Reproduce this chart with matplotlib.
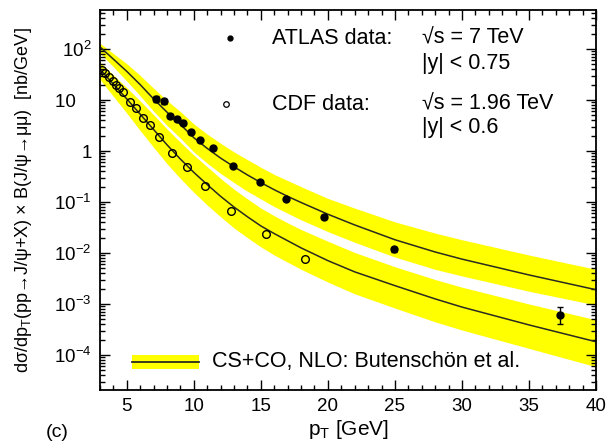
import numpy as np
import matplotlib
matplotlib.use('Agg')
import matplotlib.pyplot as plt
from matplotlib.patches import Rectangle
from matplotlib.lines import Line2D
from matplotlib.ticker import FixedLocator, LogLocator, MultipleLocator, NullFormatter

plt.rcParams['font.family'] = ['Liberation Sans', 'DejaVu Sans']
plt.rcParams['mathtext.fontset'] = 'custom'
plt.rcParams['mathtext.rm'] = 'Liberation Sans'
plt.rcParams['mathtext.it'] = 'Liberation Sans:italic'

# ATLAS data, sqrt(s) = 7 TeV, |y| < 0.75
atlas_pt = [7.2, 7.75, 8.25, 8.75, 9.2, 9.75, 10.45, 11.45, 12.9, 14.9, 16.9, 19.7, 24.95, 37.3]
atlas_val = [10.5, 9.5, 4.9, 4.3, 3.5, 2.35, 1.62, 1.12, 0.51, 0.245, 0.117, 0.051, 0.0118, 6.0e-4]
atlas_err_lo = [1.3, 1.1, 0.4, 0.35, 0.3, 0.2, 0.12, 0.08, 0.035, 0.017, 0.009, 0.004, 0.0015, 1.9e-4]
atlas_err_hi = [1.3, 1.1, 0.4, 0.35, 0.3, 0.2, 0.12, 0.08, 0.035, 0.017, 0.009, 0.004, 0.0015, 2.7e-4]

# CDF data, sqrt(s) = 1.96 TeV, |y| < 0.6
cdf_pt = [3.15, 3.4, 3.65, 3.95, 4.2, 4.45, 4.7, 5.2, 5.7, 6.2, 6.7, 7.4, 8.35, 9.5, 10.8, 12.8, 15.4, 18.3]
cdf_val = [38.9, 33.1, 27.9, 23.4, 19.5, 17.0, 14.1, 9.3, 6.9, 4.4, 3.2, 1.86, 0.90, 0.49, 0.21, 0.068, 0.0234, 0.0076]

# NLO theory (log10 of the cross section), central line and band edges
th_pt = [3, 4, 5, 6, 7, 8, 9, 10, 11, 12, 13, 14, 15, 16, 17, 18, 20, 22, 25, 28, 30, 35, 40]
lhc_mid = [2.04, 1.80, 1.56, 1.30, 1.02, 0.76, 0.52, 0.26, 0.05, -0.14, -0.31, -0.47, -0.62, -0.76, -0.89, -1.01,
           -1.24, -1.45, -1.74, -1.98, -2.12, -2.43, -2.72]
lhc_hi = [2.11, 1.91, 1.71, 1.48, 1.23, 0.99, 0.77, 0.53, 0.33, 0.15, -0.02, -0.17, -0.32, -0.46, -0.58, -0.70,
          -0.93, -1.12, -1.39, -1.61, -1.74, -2.04, -2.32]
lhc_lo = [1.92, 1.65, 1.37, 1.08, 0.78, 0.50, 0.25, -0.02, -0.24, -0.44, -0.62, -0.79, -0.94, -1.09, -1.22, -1.35,
          -1.58, -1.79, -2.08, -2.32, -2.45, -2.75, -3.02]
tev_mid = [1.60, 1.31, 1.02, 0.72, 0.42, 0.12, -0.16, -0.42, -0.66, -0.89, -1.10, -1.29, -1.47, -1.62, -1.76, -1.90,
           -2.15, -2.37, -2.64, -2.90, -3.06, -3.41, -3.74]
tev_hi = [1.74, 1.49, 1.24, 0.98, 0.71, 0.43, 0.17, -0.08, -0.31, -0.54, -0.75, -0.94, -1.12, -1.27, -1.41, -1.54,
          -1.77, -1.99, -2.27, -2.52, -2.67, -3.00, -3.31]
tev_lo = [1.40, 1.07, 0.74, 0.40, 0.07, -0.25, -0.54, -0.81, -1.06, -1.29, -1.51, -1.70, -1.88, -2.04, -2.18, -2.32,
          -2.57, -2.80, -3.08, -3.35, -3.51, -3.87, -4.23]

ytick_vals = [1e2, 1e1, 1, 1e-1, 1e-2, 1e-3, 1e-4]
ytick_labels = ['$10^{2}$', '10   ', '1', '$10^{-1}$', '$10^{-2}$', '$10^{-3}$', '$10^{-4}$']

yellow = '#ffff00'
dark = '#2a2a20'
key_size = 15.5

fig = plt.figure(figsize=(6.10, 4.46), dpi=100)
ax = fig.add_axes([0.164, 0.1256, 0.813, 0.852])

for lo, hi, mid in [(lhc_lo, lhc_hi, lhc_mid), (tev_lo, tev_hi, tev_mid)]:
    ax.fill_between(th_pt, 10 ** np.array(lo), 10 ** np.array(hi), color=yellow, lw=0, zorder=1)
    ax.plot(th_pt, 10 ** np.array(mid), color=dark, lw=1.1, zorder=2)

ax.errorbar(atlas_pt, atlas_val, yerr=[atlas_err_lo, atlas_err_hi], fmt='o', ms=5, color='black',
            elinewidth=1, capsize=2.5, zorder=4)
ax.plot(cdf_pt, cdf_val, 'o', ms=5.5, mfc='none', mec='black', mew=1.0, zorder=4)

ax.set_yscale('log')
ax.set_xlim(3, 40)
ax.set_ylim(10 ** -4.686, 10 ** 2.765)

ax.xaxis.set_major_locator(MultipleLocator(5))
ax.xaxis.set_minor_locator(MultipleLocator(1))
ax.yaxis.set_major_locator(FixedLocator(ytick_vals))
ax.set_yticklabels(ytick_labels)
ax.yaxis.set_minor_locator(LogLocator(base=10, subs=np.arange(2, 10)))
ax.yaxis.set_minor_formatter(NullFormatter())

ax.tick_params(which='both', direction='in', top=True, right=True, labelsize=13.5, width=1)
ax.tick_params(which='major', length=7, pad=6)
ax.tick_params(which='minor', length=3.5)
for sp in ax.spines.values():
    sp.set_linewidth(1.3)

ax.set_xlabel(r'p$_\mathrm{T}$ [GeV]', fontsize=15, labelpad=2)
fig.text(0.038, 0.552, r'dσ/dp$_\mathrm{T}$(pp→J/ψ+X) × B(J/ψ→μμ)  [nb/GeV]', rotation=90,
         ha='center', va='center', fontsize=13)
fig.text(0.094, 0.03, '(c)', ha='center', va='center', fontsize=14)

# data key at top
ax.plot([0.2621], [0.9263], 'o', ms=3.5, color='black', transform=ax.transAxes)
ax.plot([0.2540], [0.7526], 'o', ms=4, mfc='none', mec='black', mew=0.9, transform=ax.transAxes)
fig.text(272 / 610, 1 - 38 / 446, 'ATLAS data:', fontsize=key_size, va='center')
fig.text(422 / 610, 1 - 38 / 446, '√s = 7 TeV', fontsize=key_size, va='center')
fig.text(422 / 610, 1 - 63 / 446, '|y| < 0.75', fontsize=key_size, va='center')
fig.text(272 / 610, 1 - 104 / 446, 'CDF data:', fontsize=key_size, va='center')
fig.text(422 / 610, 1 - 104 / 446, '√s = 1.96 TeV', fontsize=key_size, va='center')
fig.text(422 / 610, 1 - 128 / 446, '|y| < 0.6', fontsize=key_size, va='center')

# theory key at bottom
ax.add_patch(Rectangle((0.0645, 0.0553), 0.135, 0.037, transform=ax.transAxes, color=yellow, lw=0))
ax.add_line(Line2D([0.0645, 0.1995], [0.0737, 0.0737], color=dark, lw=1.3, transform=ax.transAxes))
ax.text(0.226, 0.0737, 'CS+CO, NLO: Butenschön et al.', transform=ax.transAxes, fontsize=key_size,
        va='center')

fig.savefig('out.png', dpi=100)
